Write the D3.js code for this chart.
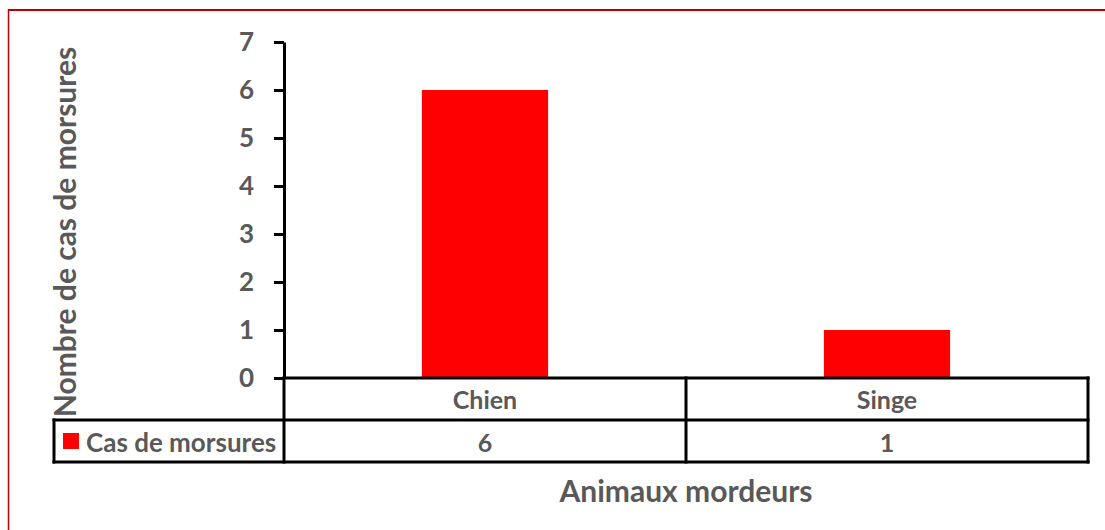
<!DOCTYPE html>
<html>
<head>
<meta charset="utf-8">
<script src="https://cdn.jsdelivr.net/npm/d3@7"></script>
<style>
  html, body { margin: 0; padding: 0; background: #fff; }
  svg { display: block; }
  text { font-family: Lato, "Open Sans", sans-serif; font-weight: 700; fill: #595959; }
</style>
</head>
<body>
<svg id="chart" width="1105" height="530"></svg>
<script>
const categories = ["Chien", "Singe"];
const seriesName = "Cas de morsures";
const seriesValues = [6, 1];
const yTicks = [0, 1, 2, 3, 4, 5, 6, 7];
const xTitle = "Animaux mordeurs";
const yTitle = "Nombre de cas de morsures";

const svg = d3.select("#chart");
const W = 1105, H = 530;
const plot = { left: 284, right: 1088, top: 42, bottom: 378 };
const rowH = 42;
const tableLeft = 54;
const tableBottom = plot.bottom + 2 * rowH;
const red = "#FF0000";

// outer border
svg.append("line").attr("x1", 8).attr("x2", W).attr("y1", 10).attr("y2", 10)
  .attr("stroke", "#C00000").attr("stroke-width", 2);
svg.append("line").attr("x1", 8.5).attr("x2", 8.5).attr("y1", 9).attr("y2", H)
  .attr("stroke", "#C00000").attr("stroke-width", 1.5);

const x = d3.scaleBand().domain(categories).range([plot.left, plot.right]).padding(0);
const y = d3.scaleLinear().domain([0, 7]).range([plot.bottom, plot.top]);
const barW = x.bandwidth() * 0.314;

// bars
svg.append("g").selectAll("rect").data(categories).join("rect")
  .attr("x", d => x(d) + x.bandwidth() / 2 - barW / 2)
  .attr("y", (d, i) => y(seriesValues[i]))
  .attr("width", barW)
  .attr("height", (d, i) => y(0) - y(seriesValues[i]))
  .attr("fill", red);

// y axis
const yAxis = svg.append("g").attr("transform", `translate(${plot.left},0)`)
  .call(d3.axisLeft(y).tickValues(yTicks).tickSize(10).tickSizeOuter(0).tickPadding(20).tickFormat(d3.format("d")));
yAxis.select(".domain").attr("stroke", "#000").attr("stroke-width", 3);
yAxis.selectAll(".tick line").attr("stroke", "#000").attr("stroke-width", 3);
yAxis.selectAll(".tick text").style("font-size", "26px").attr("fill", "#595959")
  .style("font-family", "Lato, 'Open Sans', sans-serif").style("font-weight", 700);

// data table
const tbl = svg.append("g");
const lineAttrs = sel => sel.attr("stroke", "#000").attr("stroke-width", 3).attr("stroke-linecap", "square");
lineAttrs(tbl.append("line").attr("x1", plot.left).attr("x2", plot.right).attr("y1", plot.bottom).attr("y2", plot.bottom));
lineAttrs(tbl.append("line").attr("x1", tableLeft).attr("x2", plot.right).attr("y1", plot.bottom + rowH).attr("y2", plot.bottom + rowH));
lineAttrs(tbl.append("line").attr("x1", tableLeft).attr("x2", plot.right).attr("y1", tableBottom).attr("y2", tableBottom));
lineAttrs(tbl.append("line").attr("x1", tableLeft).attr("x2", tableLeft).attr("y1", plot.bottom + rowH).attr("y2", tableBottom));
lineAttrs(tbl.append("line").attr("x1", plot.left).attr("x2", plot.left).attr("y1", plot.bottom).attr("y2", tableBottom));
categories.forEach(c => {
  const xr = x(c) + x.bandwidth();
  lineAttrs(tbl.append("line").attr("x1", xr).attr("x2", xr).attr("y1", plot.bottom).attr("y2", tableBottom));
});

// category labels
tbl.selectAll("text.cat").data(categories).join("text").attr("class", "cat")
  .attr("x", d => x(d) + x.bandwidth() / 2)
  .attr("y", plot.bottom + rowH / 2)
  .attr("text-anchor", "middle").attr("dominant-baseline", "central")
  .style("font-size", "25px").text(d => d);

// values
tbl.selectAll("text.val").data(seriesValues).join("text").attr("class", "val")
  .attr("x", (d, i) => x(categories[i]) + x.bandwidth() / 2)
  .attr("y", plot.bottom + rowH * 1.5 + 1)
  .attr("text-anchor", "middle").attr("dominant-baseline", "central")
  .style("font-size", "25px").text(d => d);

// legend key in table
tbl.append("rect").attr("x", 63).attr("y", 433).attr("width", 16).attr("height", 16).attr("fill", red);
tbl.append("text").attr("x", 86).attr("y", plot.bottom + rowH * 1.5 + 1)
  .attr("dominant-baseline", "central").style("font-size", "26px").text(seriesName);

// axis titles
svg.append("text").attr("x", (plot.left + plot.right) / 2).attr("y", 490)
  .attr("text-anchor", "middle").attr("dominant-baseline", "central")
  .style("font-size", "30px").text(xTitle);
svg.append("text").attr("transform", "translate(64,232) rotate(-90)")
  .attr("text-anchor", "middle").attr("dominant-baseline", "central")
  .style("font-size", "30px").text(yTitle);
</script>
</body>
</html>
